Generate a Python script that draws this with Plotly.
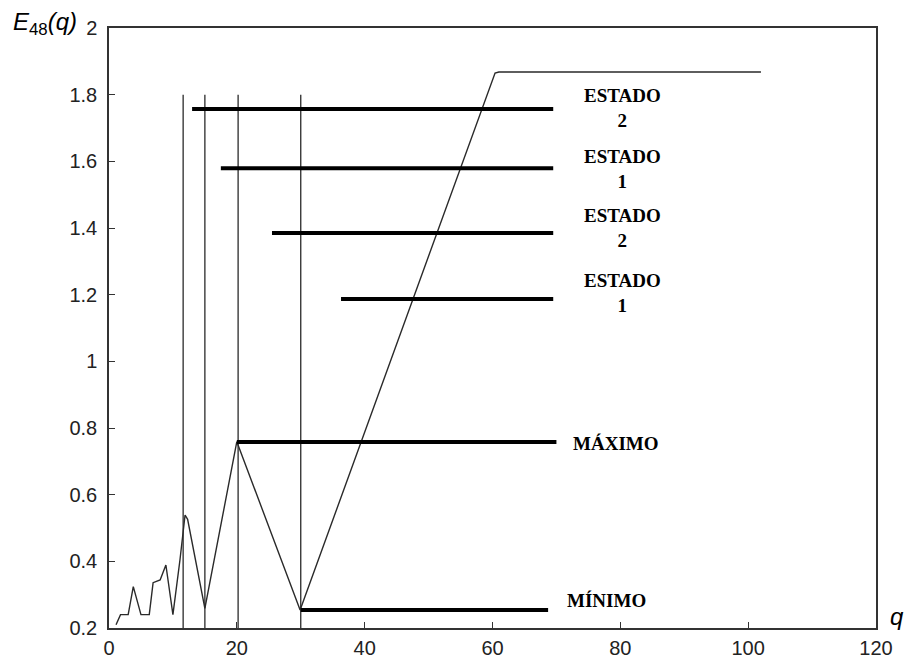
import plotly.graph_objects as go

# ---- data ----
q_curve = [1.1, 1.8, 3.0, 3.8, 5.0, 6.3, 6.9, 8.0, 8.9, 10.0, 11.1, 11.9, 12.3, 15.0, 20.0, 29.9, 60.4, 61.0, 102.0]
E_curve = [0.21, 0.24, 0.24, 0.324, 0.24, 0.24, 0.336, 0.344, 0.389, 0.24, 0.404, 0.539, 0.526, 0.259, 0.759, 0.254, 1.865, 1.868, 1.868]

vline_q = [11.6, 15.0, 20.2, 30.0]
vline_bottom = 0.2
vline_top = 1.8

seg_labels = ["ESTADO<br>2", "ESTADO<br>1", "ESTADO<br>2", "ESTADO<br>1", "MÁXIMO", "MÍNIMO"]
seg_start = [13.0, 17.5, 25.5, 36.3, 20.0, 30.0]
seg_end = [69.5, 69.5, 69.5, 69.5, 70.0, 68.7]
seg_level = [1.757, 1.579, 1.385, 1.187, 0.758, 0.254]
label_q = [80.4, 80.4, 80.4, 80.4, 79.2, 77.8]
label_level = [1.760, 1.577, 1.400, 1.206, 0.755, 0.284]

x_ticks = [0, 20, 40, 60, 80, 100, 120]
y_ticks = [0.2, 0.4, 0.6, 0.8, 1.0, 1.2, 1.4, 1.6, 1.8, 2.0]
y_ticktext = ["0.2", "0.4", "0.6", "0.8", "1", "1.2", "1.4", "1.6", "1.8", "2"]

fig = go.Figure()

# vertical thin lines
for q in vline_q:
    fig.add_trace(go.Scatter(x=[q, q], y=[vline_bottom, vline_top], mode="lines",
                             line=dict(color="#2a2a2a", width=1.3), showlegend=False, hoverinfo="skip"))

# main curve
fig.add_trace(go.Scatter(x=q_curve, y=E_curve, mode="lines",
                         line=dict(color="#2a2a2a", width=1.4), showlegend=False))

# thick horizontal segments
for s, e, lv in zip(seg_start, seg_end, seg_level):
    fig.add_trace(go.Scatter(x=[s, e], y=[lv, lv], mode="lines",
                             line=dict(color="black", width=4), showlegend=False, hoverinfo="skip"))

for txt, xq, lv in zip(seg_labels, label_q, label_level):
    fig.add_annotation(x=xq, y=lv, text="<b>" + txt + "</b>", showarrow=False,
                       xanchor="center", yanchor="middle",
                       font=dict(family="Liberation Serif", size=19, color="black"))

fig.add_annotation(xref="paper", yref="paper", x=-0.083, y=1.007,
                   text="<i>E</i><sub>48</sub><i>(q)</i>", showarrow=False,
                   xanchor="center", yanchor="middle",
                   font=dict(family="Liberation Sans", size=24, color="black"))
fig.add_annotation(xref="paper", yref="paper", x=1.016, y=0.02,
                   text="<i>q</i>", showarrow=False,
                   xanchor="left", yanchor="middle",
                   font=dict(family="Liberation Sans", size=24, color="black"))

axis_common = dict(showgrid=False, zeroline=False, showline=True, linecolor="#333333",
                   linewidth=1.5, mirror=True, ticks="inside", ticklen=6, tickcolor="#333333",
                   automargin=False,
                   tickfont=dict(family="Liberation Sans", size=20, color="#222222"))

fig.update_xaxes(range=[0, 120], tickvals=x_ticks, ticktext=[str(v) for v in x_ticks],
                 ticklabelstandoff=1, **axis_common)
fig.update_yaxes(range=[0.2, 2.0], tickvals=y_ticks, ticktext=y_ticktext,
                 ticklabelstandoff=6, **axis_common)

# page body adds an 8px offset; compensate so the plot area lands where the reference has it
fig.update_layout(width=905, height=656, margin=dict(l=101, r=37, t=20, b=36),
                  plot_bgcolor="white", paper_bgcolor="white", showlegend=False)

fig.write_html("out.html")
